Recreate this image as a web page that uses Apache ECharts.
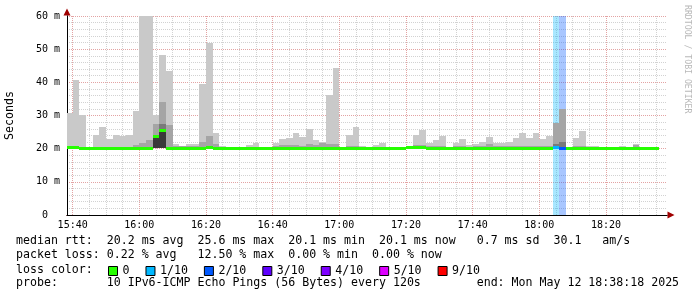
<!DOCTYPE html>
<html><head><meta charset="utf-8">
<script src="https://cdn.jsdelivr.net/npm/echarts@6/dist/echarts.min.js"></script>
<style>html,body{margin:0;padding:0;background:#fff}#c{width:697px;height:297px}</style>
</head><body><div id="c"></div>
<script>
// ---- time domain (minutes after 15:00) ----
const axisStart = 38.3;   // 15:38:18
const axisEnd = 218.3;    // 18:38:18
const firstStepStart = 38; // first 120 s step begins 15:38
const stepMinutes = 2;
const xGridTicks = [40,45,50,55,60,65,70,75,80,85,90,95,100,105,110,115,120,125,130,135,140,145,150,155,160,165,170,175,180,185,190,195,200,205,210,215];
const xLabelTicks = [40,60,80,100,120,140,160,180,200];
const yLabelTicks = [0,10,20,30,40,50,60];

// ---- per-step values (ms), 89 steps of 120 s ----
const median = [20.3,20.3,20.2,20.2,20.2,20.2,20.2,20.2,20.2,20.1,20.2,20.2,20.2,23.6,25.6,20.2,20.2,20.2,20.2,20.2,
  20.2,20.3,20.2,20.1,20.1,20.1,20.1,20.1,20.1,20.1,20.1,20.2,20.2,20.2,20.2,20.2,20.2,20.2,20.2,20.2,
  20.2,20.1,20.1,20.1,20.1,20.1,20.1,20.1,20.1,20.1,20.1,20.3,20.3,20.3,20.2,20.2,20.2,20.1,20.1,20.1,
  20.1,20.2,20.2,20.2,20.2,20.2,20.2,20.2,20.2,20.2,20.2,20.2,20.2,20.3,20.2,20.2,20.2,20.2,20.2,20.2,
  20.1,20.1,20.1,20.1,20.1,20.1,20.1,20.1,20.1];
const smokeMin = [20.0,20.0,20.0,20.0,20.0,20.0,20.0,20.0,20.0,19.9,20.0,20.0,20.0,20.2,20.2,20.0,20.0,20.0,20.0,20.0,
  20.0,20.0,20.0,19.9,19.9,19.9,19.9,19.9,19.9,19.9,19.9,20.0,20.0,20.0,20.0,20.0,20.0,20.0,20.0,20.0,
  20.0,19.9,19.9,19.9,19.9,19.9,19.9,19.9,19.9,19.9,19.9,20.0,20.0,20.0,20.0,20.0,20.0,19.9,19.9,19.9,
  19.9,20.0,20.0,20.0,20.0,20.0,20.0,20.0,20.0,20.0,20.0,20.0,20.0,20.0,20.0,20.0,20.0,20.0,20.0,20.0,
  19.9,19.9,19.9,19.9,19.9,19.9,19.9,19.9,19.9];
// outermost smoke (max ping)
const smokeOuter = [30.8,40.8,30.3,20.6,24.1,26.4,22.8,24.0,23.7,24.2,31.5,75,75,30.2,48.3,43.5,21.3,20.8,21.5,21.5,
  39.6,52.0,24.6,20.8,20.5,20.5,20.5,21.0,21.6,20.5,20.5,21.6,22.8,23.1,24.6,23.4,25.8,22.5,22.0,36.3,
  44.3,20.5,24.0,26.4,20.8,20.6,21.0,21.6,20.5,20.5,20.5,20.8,24.0,25.5,21.6,22.5,23.7,20.5,21.6,22.8,
  21.1,21.3,22.0,23.4,21.6,21.6,22.0,23.1,24.6,23.1,24.6,22.8,23.7,null,null,20.5,23.1,25.2,20.8,20.8,
  20.5,20.5,20.5,20.8,20.5,21.4,20.5,20.5,20.6];
// second smoke band
const smokeMid = [20.9,20.9,20.6,null,20.6,20.6,20.6,20.6,20.6,20.6,21.0,21.6,22.6,27.3,34.0,27.1,20.8,20.7,20.7,20.7,
  22.0,23.7,21.4,null,null,null,null,null,null,null,null,20.8,21.1,21.0,21.0,20.7,21.4,21.1,21.6,21.4,
  21.4,null,20.8,20.8,null,null,null,null,null,null,null,null,21.0,21.0,20.7,20.7,20.7,null,20.7,20.7,
  null,20.7,20.9,21.4,20.8,20.8,20.8,20.9,20.9,20.7,20.7,20.7,20.8,27.6,32.1,null,20.8,20.8,null,null,
  null,null,null,null,null,21.0,null,null,null];
// third band
const smokeInner = [null,null,null,null,null,null,null,null,null,null,null,null,null,null,27.3,null,null,null,null,null,
  null,null,null,null,null,null,null,null,null,null,null,null,null,null,null,null,null,null,null,null,
  null,null,null,null,null,null,null,null,null,null,null,null,null,null,null,null,null,null,null,null,
  null,null,null,null,null,null,null,null,null,null,null,null,null,21.3,21.9,null,null,null,null,null,
  null,null,null,null,null,null,null,null,null];
// core band
const smokeCore = [null,null,null,null,null,null,null,null,null,null,null,null,null,23.8,25.8,null,null,null,null,null,
  null,null,null,null,null,null,null,null,null,null,null,null,null,null,null,null,null,null,null,null,
  null,null,null,null,null,null,null,null,null,null,null,null,null,null,null,null,null,null,null,null,
  null,null,null,null,null,null,null,null,null,null,null,null,null,null,null,null,null,null,null,null,
  null,null,null,null,null,null,null,null,null];
// lost pings out of 10
const lossCount = [0,0,0,0,0,0,0,0,0,0,0,0,0,0,0,0,0,0,0,0, 0,0,0,0,0,0,0,0,0,0,0,0,0,0,0,0,0,0,0,0,
  0,0,0,0,0,0,0,0,0,0,0,0,0,0,0,0,0,0,0,0, 0,0,0,0,0,0,0,0,0,0,0,0,0,1,2,0,0,0,0,0, 0,0,0,0,0,0,0,0,0];

const lossLabels = ['0','1/10','2/10','3/10','4/10','5/10','9/10'];
const lossThresholds = [0,1,2,3,4,5,9];
const lossColors = ['#26ff00','#00b8ff','#0059ff','#5e00ff','#7e00ff','#dd00ff','#ff0000'];
const smokeColors = ['#c9c9c9','#a5a5a5','#7a7a7a','#3a3a3a'];

const statLines = [
  'median rtt:  20.2 ms avg  25.6 ms max  20.1 ms min  20.1 ms now   0.7 ms sd  30.1   am/s',
  'packet loss: 0.22 % avg   12.50 % max  0.00 % min  0.00 % now',
  'loss color:',
  'probe:       10 IPv6-ICMP Echo Pings (56 Bytes) every 120s        end: Mon May 12 18:38:18 2025'
];

// ---- helpers ----
const MONO = '"DejaVu Sans Mono", monospace';
function bucketOf(c){ let b = 0; lossThresholds.forEach((t,i)=>{ if (c >= t) b = i; }); return b; }
function fmtTime(m){ const h = 15 + Math.floor(m/60), mm = Math.round(m%60); return h + ':' + (mm<10?'0':'') + mm; }
function rectBetween(api, params, x0, x1, y0, y1){
  const a = api.coord([x0, y0]), b = api.coord([x1, y1]);
  const l = Math.round(Math.min(a[0],b[0])), r = Math.round(Math.max(a[0],b[0]));
  const t = Math.round(Math.min(a[1],b[1])), btm = Math.round(Math.max(a[1],b[1]));
  return echarts.graphic.clipRectByRect({x:l, y:t, width:r-l, height:btm-t}, params.coordSys);
}
const stepStart = i => firstStepStart + i*stepMinutes;

const smokeData = median.map((m,i)=>[stepStart(i), stepStart(i)+stepMinutes, smokeMin[i], smokeOuter[i], smokeMid[i], smokeInner[i], smokeCore[i]]);
const bgData = [];
lossCount.forEach((c,i)=>{ if (c>0) bgData.push([stepStart(i), stepStart(i)+stepMinutes, bucketOf(c)]); });

const series = [];
series.push({
  type:'custom', name:'lossbg', z:1, silent:true, data:bgData,
  renderItem:(params, api)=>{
    const shape = rectBetween(api, params, api.value(0), api.value(1), 0, 60);
    if (!shape) return null;
    return {type:'rect', shape, style:{fill: lossColors[api.value(2)], opacity:0.34}};
  }
});
series.push({
  type:'custom', name:'smoke', z:2, silent:true, data:smokeData,
  renderItem:(params, api)=>{
    const children = [];
    const lo = api.value(2);
    for (let j=0;j<4;j++){
      const hi = api.value(3+j);
      if (hi == null || isNaN(hi)) continue;
      const shape = rectBetween(api, params, api.value(0), api.value(1), lo, hi);
      if (shape) children.push({type:'rect', shape, style:{fill:smokeColors[j]}});
    }
    return {type:'group', children};
  }
});
lossLabels.forEach((name, b)=>{
  const data = [];
  median.forEach((m,i)=>{ if (bucketOf(lossCount[i]) === b) data.push([stepStart(i), stepStart(i)+stepMinutes, m]); });
  series.push({
    type:'custom', name, z:3, silent:true, data,
    itemStyle:{color: lossColors[b]},
    renderItem:(params, api)=>{
      const a = api.coord([api.value(0), api.value(2)]), c = api.coord([api.value(1), api.value(2)]);
      const l = Math.round(a[0]), r = Math.round(c[0]);
      const shape = echarts.graphic.clipRectByRect({x:l, y:Math.round(a[1]-1.5), width:r-l, height:3}, params.coordSys);
      if (!shape) return null;
      return {type:'rect', shape, style:{fill: lossColors[b]}};
    }
  });
});

const MAJOR = '#e3a3a3', MINOR = '#d2d2d2';
const chart = echarts.init(document.getElementById('c'), null, {renderer:'canvas'});
chart.setOption({
  animation:false,
  backgroundColor:'#ffffff',
  grid:{left:67, top:16, width:600, height:199, outerBoundsMode:'none'},
  xAxis:[{
    type:'value', min:axisStart, max:axisEnd, position:'bottom', z:0,
    axisLine:{show:true, onZero:false, lineStyle:{color:'#000', width:1}},
    axisTick:{show:false, customValues:xGridTicks},
    axisLabel:{customValues:xLabelTicks, formatter:fmtTime, fontFamily:MONO, fontSize:10, color:'#000', margin:5},
    splitLine:{show:true, lineStyle:{color:[MAJOR,MINOR,MINOR,MINOR], width:1, type:[1,1]}}
  },{
    type:'value', min:axisStart, max:axisEnd, position:'bottom', z:-1,
    axisLine:{show:true, onZero:false, symbol:['none','triangle'], symbolSize:[7,7], symbolOffset:[0,4], lineStyle:{color:'#a00000', width:1}},
    axisTick:{show:false}, axisLabel:{show:false}, splitLine:{show:false}
  }],
  yAxis:[{
    type:'value', min:0, max:60, interval:2, position:'left', z:0,
    name:'Seconds', nameLocation:'middle', nameRotate:90, nameGap:51,
    nameTextStyle:{fontFamily:MONO, fontSize:11.6, color:'#000'},
    axisLine:{show:true, onZero:false, lineStyle:{color:'#000', width:1}},
    axisTick:{show:false},
    axisLabel:{customValues:yLabelTicks, formatter:v => v===0 ? '0  ' : v + ' m', fontFamily:MONO, fontSize:10, color:'#000', margin:7},
    splitLine:{show:true, lineStyle:{color:[MAJOR,MINOR,MINOR,MINOR,MINOR], width:1, type:[1,1]}}
  },{
    type:'value', min:0, max:60, position:'left', z:-1,
    axisLine:{show:true, onZero:false, symbol:['none','triangle'], symbolSize:[7,7], symbolOffset:[0,4], lineStyle:{color:'#a00000', width:1}},
    axisTick:{show:false}, axisLabel:{show:false}, splitLine:{show:false}
  }],
  legend:{
    data:lossLabels.map(n=>({name:n, icon:'rect'})),
    left:108, top:265, itemWidth:9, itemHeight:9, itemGap:16, padding:0,
    selectedMode:false,
    itemStyle:{borderColor:'#000', borderWidth:1},
    textStyle:{fontFamily:MONO, fontSize:11.6, color:'#000'}
  },
  graphic:[
    {type:'text', x:16, y:241, silent:true, style:{text:statLines[0], fontFamily:MONO, fontSize:11.6, fill:'#000', verticalAlign:'middle'}},
    {type:'text', x:16, y:255, silent:true, style:{text:statLines[1], fontFamily:MONO, fontSize:11.6, fill:'#000', verticalAlign:'middle'}},
    {type:'text', x:16, y:269.5, silent:true, style:{text:statLines[2], fontFamily:MONO, fontSize:11.6, fill:'#000', verticalAlign:'middle'}},
    {type:'text', x:16, y:283, silent:true, style:{text:statLines[3], fontFamily:MONO, fontSize:11.6, fill:'#000', verticalAlign:'middle'}},
    {type:'text', x:687, y:5, rotation:-Math.PI/2, silent:true, style:{text:'RRDTOOL / TOBI OETIKER', fontFamily:MONO, fontSize:8.2, fill:'#b8b8b8', align:'left', verticalAlign:'middle'}}
  ],
  series
});
</script></body></html>
